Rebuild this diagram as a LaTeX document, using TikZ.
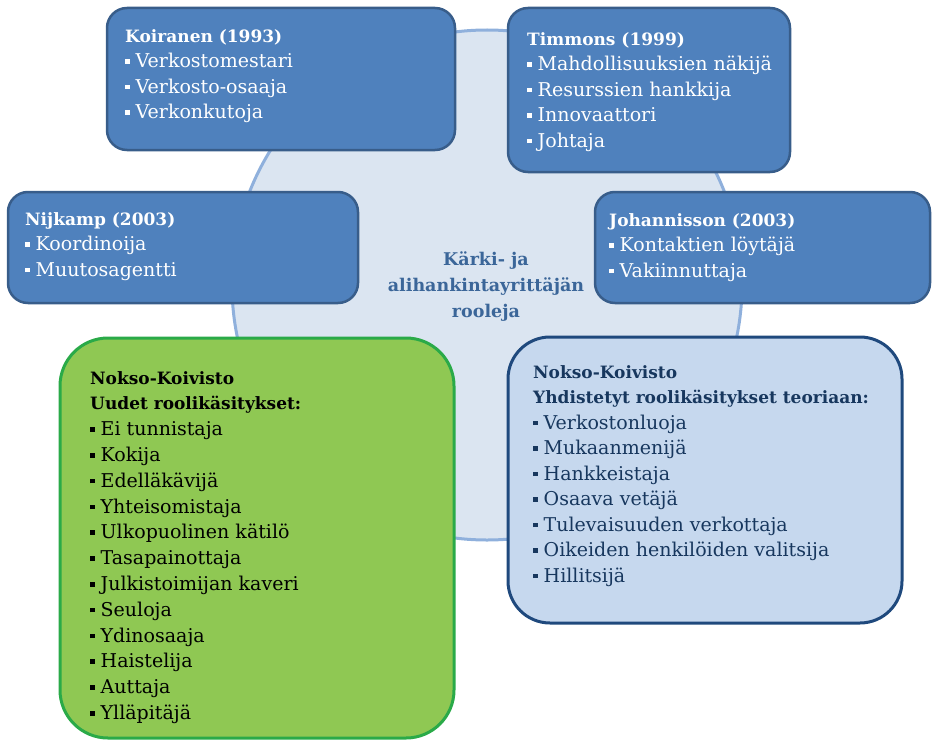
\documentclass[tikz,border=0pt]{standalone}
\usepackage{fontspec}
\setmainfont{DejaVu Serif}
\definecolor{ringfill}{HTML}{DBE5F1}
\definecolor{ringline}{HTML}{8FB0DC}
\definecolor{darkfill}{HTML}{4F81BD}
\definecolor{darkline}{HTML}{385D8A}
\definecolor{greenfill}{HTML}{8FC853}
\definecolor{greenline}{HTML}{2AAA48}
\definecolor{palefill}{HTML}{C6D8EE}
\definecolor{paleline}{HTML}{1F497D}
\definecolor{navytext}{HTML}{17375E}
\definecolor{hubtext}{HTML}{3B6699}
% square bullet followed by a fixed gap
\newcommand\bul{\rule[4pt]{4.5pt}{4.5pt}\hspace{6pt}}
% bold heading line, slightly smaller than the list items
\newcommand\hd[1]{{\bfseries\fontsize{17}{25.5}\selectfont #1}}
\begin{document}
\begin{tikzpicture}[x=1pt,y=-1pt,
  darkbox/.style={draw=darkline,fill=darkfill,line width=2.5pt,rounded corners=20pt,inner sep=0pt},
  greenbox/.style={draw=greenline,fill=greenfill,line width=3pt,rounded corners=48pt,inner sep=0pt},
  palebox/.style={draw=paleline,fill=palefill,line width=3pt,rounded corners=42pt,inner sep=0pt},
  boxtext/.style={anchor=north west,inner sep=0pt,align=left,font=\fontsize{19}{25.5}\selectfont},
  ]
\useasboundingbox (0,0) rectangle (933,741);
% central circle
\node[circle,draw=ringline,fill=ringfill,line width=3pt,minimum size=510pt,inner sep=0pt] (hub) at (487,285) {};
% outer boxes
\node[darkbox,minimum width=348pt,minimum height=142pt] (koi) at (281,79) {};
\node[darkbox,minimum width=282pt,minimum height=164pt] (tim) at (649,90) {};
\node[darkbox,minimum width=350pt,minimum height=111pt] (nij) at (183,247.5) {};
\node[darkbox,minimum width=335pt,minimum height=111pt] (joh) at (762.5,247.5) {};
\node[greenbox,minimum width=394pt,minimum height=400pt] (uus) at (257,538) {};
\node[palebox,minimum width=394pt,minimum height=286pt] (yhd) at (705,480) {};
% texts
\node[boxtext,text=white] (koit) at (125,29) {\hd{Koiranen (1993)}\\\bul Verkostomestari\\\bul Verkosto-osaaja\\\bul Verkonkutoja};
\node[boxtext,text=white] (timt) at (527,32) {\hd{Timmons (1999)}\\\bul Mahdollisuuksien näkijä\\\bul Resurssien hankkija\\\bul Innovaattori\\\bul Johtaja};
\node[boxtext,text=white] (nijt) at (25,212) {\hd{Nijkamp (2003)}\\\bul Koordinoija\\\bul Muutosagentti};
\node[boxtext,text=white] (joht) at (609,213) {\hd{Johannisson (2003)}\\\bul Kontaktien löytäjä\\\bul Vakiinnuttaja};
\node[boxtext,text=black,font=\fontsize{19}{25.8}\selectfont] (uust) at (90,371) {\hd{Nokso-Koivisto}\\\hd{Uudet roolikäsitykset:}\\\bul Ei tunnistaja\\\bul Kokija\\\bul Edelläkävijä\\\bul Yhteisomistaja\\\bul Ulkopuolinen kätilö\\\bul Tasapainottaja\\\bul Julkistoimijan kaveri\\\bul Seuloja\\\bul Ydinosaaja\\\bul Haistelija\\\bul Auttaja\\\bul Ylläpitäjä};
\node[boxtext,text=navytext] (yhdt) at (533,365) {\hd{Nokso-Koivisto}\\\hd{Yhdistetyt roolikäsitykset teoriaan:}\\\bul Verkostonluoja\\\bul Mukaanmenijä\\\bul Hankkeistaja\\\bul Osaava vetäjä\\\bul Tulevaisuuden verkottaja\\\bul Oikeiden henkilöiden valitsija\\\bul Hillitsijä};
\node[align=center,inner sep=0pt,text=hubtext,font=\bfseries\fontsize{17.5}{26}\selectfont] (hubt) at (486,287) {Kärki- ja\\alihankintayrittäjän\\rooleja};
\end{tikzpicture}
\end{document}
